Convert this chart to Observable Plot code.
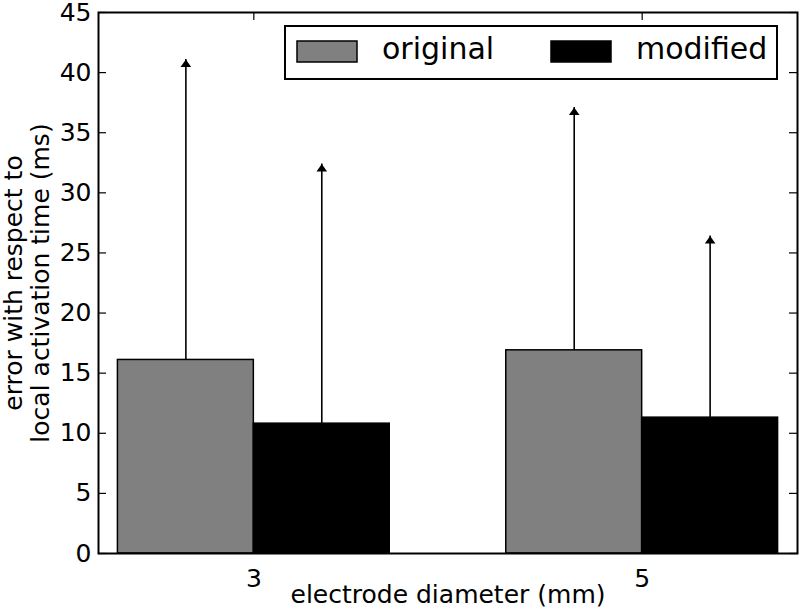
<!DOCTYPE html>
<html>
<head>
<meta charset="utf-8">
<script src="https://cdn.jsdelivr.net/npm/d3@7"></script>
<script src="https://cdn.jsdelivr.net/npm/@observablehq/plot@0.6"></script>
<style>
  html, body { margin: 0; padding: 0; background: #fff; }
  #wrap { position: relative; width: 800px; height: 615px; }
  #legend { position: absolute; left: 0; top: 0; pointer-events: none; }
</style>
</head>
<body>
<div id="wrap"></div>
<script>
// ---- data ----
const diameters = [3, 5];                 // electrode diameter (mm)
const seriesNames = ["original", "modified"];
const seriesColors = ["#808080", "#000000"];
const originalMean = [16.1, 16.9];
const originalErr  = [25.0, 20.2];        // upper error (ms)
const modifiedMean = [10.8, 11.3];
const modifiedErr  = [21.6, 15.1];
const yTicks = [0, 5, 10, 15, 20, 25, 30, 35, 40, 45];
const xTicks = [3, 5];
const xLabel = "electrode diameter (mm)";
const yLabel = "error with respect to\nlocal activation time (ms)";

// ---- build table ----
const barW = 0.7;
const rows = [];
diameters.forEach((d, i) => {
  rows.push({d, series: seriesNames[0], x1: d - barW, x2: d, mean: originalMean[i], err: originalErr[i]});
  rows.push({d, series: seriesNames[1], x1: d, x2: d + barW, mean: modifiedMean[i], err: modifiedErr[i]});
});

const W = 800, H = 615;
const mL = 98, mR = 3, mT = 12, mB = 62;
const innerW = W - mL - mR, innerH = H - mT - mB;
const tickLen = 8;
const FONT = "'DejaVu Sans', sans-serif";

const caret = {
  draw(ctx) {
    ctx.moveTo(0, 0);
    ctx.lineTo(-5.3, 7.5);
    ctx.lineTo(5.3, 7.5);
    ctx.closePath();
  }
};

const chart = Plot.plot({
  width: W, height: H,
  marginLeft: mL, marginRight: mR, marginTop: mT, marginBottom: mB,
  style: {fontFamily: FONT, fontSize: "25px", color: "black", background: "white", overflow: "visible"},
  x: {domain: [2.2, 5.8]},
  y: {domain: [0, 45]},
  color: {domain: seriesNames, range: seriesColors},
  marks: [
    Plot.rect(rows, {x1: "x1", x2: "x2", y1: 0, y2: "mean", fill: "series", stroke: "black", strokeWidth: 1.5}),
    Plot.ruleX(rows, {x: d => (d.x1 + d.x2) / 2, y1: "mean", y2: d => d.mean + d.err, stroke: "black", strokeWidth: 1.6}),
    Plot.dot(rows, {x: d => (d.x1 + d.x2) / 2, y: d => d.mean + d.err, symbol: caret, fill: "black", stroke: "none"}),
    // inward ticks on all four sides
    Plot.ruleY(yTicks, {y: d => d, insetRight: innerW - tickLen, stroke: "black", strokeWidth: 1.2}),
    Plot.ruleY(yTicks, {y: d => d, insetLeft: innerW - tickLen, stroke: "black", strokeWidth: 1.2}),
    Plot.ruleX(xTicks, {x: d => d, insetTop: innerH - tickLen, stroke: "black", strokeWidth: 1.2}),
    Plot.ruleX(xTicks, {x: d => d, insetBottom: innerH - tickLen, stroke: "black", strokeWidth: 1.2}),
    Plot.axisY({ticks: yTicks, tickSize: 0, tickPadding: 7, label: null, fontSize: 25}),
    Plot.axisX({ticks: xTicks, tickSize: 0, tickPadding: 16, label: null, fontSize: 25, tickFormat: d => String(d)}),
    Plot.frame({stroke: "black", strokeWidth: 2}),
    Plot.text([xLabel], {frameAnchor: "bottom", dy: 49, text: d => d, fontSize: 25, textAnchor: "middle", fill: "black"}),
    Plot.text([yLabel], {frameAnchor: "left", dx: -72, rotate: -90, text: d => d, fontSize: 25, lineHeight: 1.1, textAnchor: "middle", fill: "black"})
  ]
});

const wrap = document.getElementById("wrap");
wrap.appendChild(chart);

// ---- legend overlay ----
const lg = d3.select(wrap).append("svg").attr("id", "legend").attr("width", W).attr("height", H);
lg.append("rect").attr("x", 285).attr("y", 26).attr("width", 492).attr("height", 53)
  .attr("fill", "white").attr("stroke", "black").attr("stroke-width", 2);
const itemX = [297, 551];
seriesNames.forEach((name, i) => {
  lg.append("rect").attr("x", itemX[i]).attr("y", 41).attr("width", 60).attr("height", 21)
    .attr("fill", seriesColors[i]).attr("stroke", "black").attr("stroke-width", 1.5);
  lg.append("text").attr("x", itemX[i] + 85).attr("y", 59)
    .attr("font-family", FONT).attr("font-size", 30).attr("fill", "black")
    .text(name);
});
</script>
</body>
</html>
